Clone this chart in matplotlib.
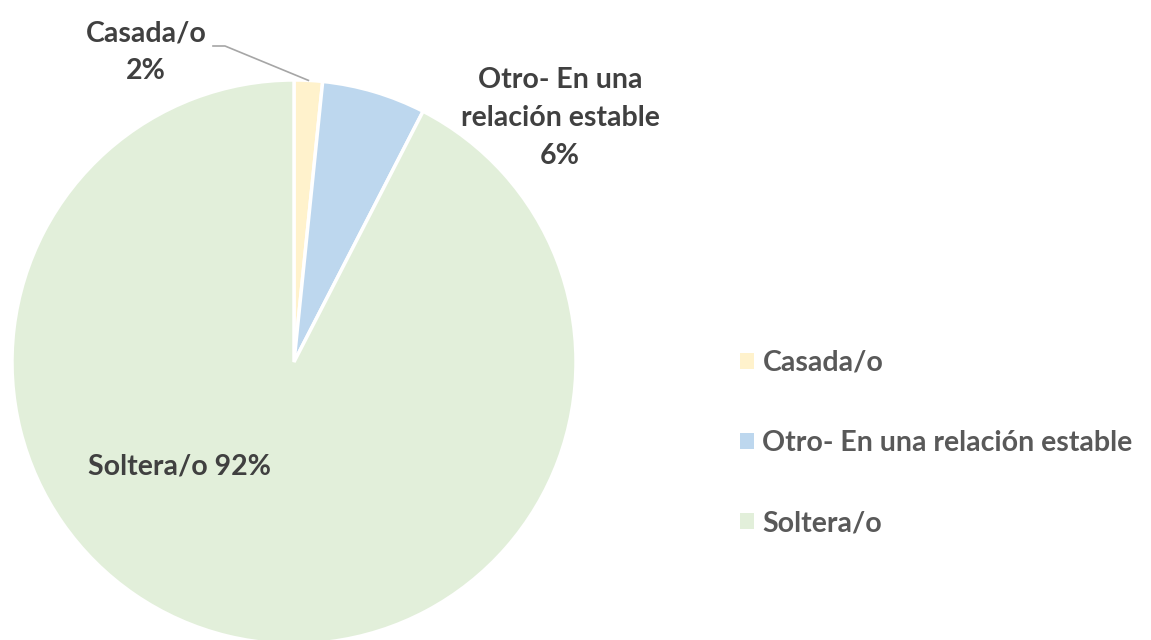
import numpy as np
import matplotlib.pyplot as plt
from matplotlib.patches import Patch

# Datos del grafico
categorias = ['Casada/o', 'Otro- En una relación estable', 'Soltera/o']
conteos = [3, 11, 171]
colores = ['#FFF2CC', '#BDD7EE', '#E2EFDA']

total = sum(conteos)
porcentajes = [round(c / total * 100) for c in conteos]

plt.rcParams['font.family'] = ['Lato', 'DejaVu Sans']

fig = plt.figure(figsize=(11.51, 6.40), dpi=100)
W, H = 1151, 640
cx, cy, r = 294, 362, 282
ax = fig.add_axes([(cx - r) / W, (H - cy - r) / H, 2 * r / W, 2 * r / H])

wedges, _ = ax.pie(conteos, colors=colores, startangle=90, counterclock=False,
                   radius=1, wedgeprops=dict(edgecolor='white', linewidth=2.5))
ax.set_xlim(-1, 1)
ax.set_ylim(-1, 1)
ax.set_aspect('equal')
ax.axis('off')

def px(x, y):
    return ((x - cx) / r, (cy - y) / r)

color_etq = '#404040'
fs = 20.5

# Casada/o con linea guia
tx, ty = px(146, 52)
ax.text(tx, ty, f'{categorias[0]}\n{porcentajes[0]}%', ha='center', va='center',
        fontsize=fs, fontweight='bold', color=color_etq, linespacing=1.55)
w = wedges[0]
ang = np.deg2rad((w.theta1 + w.theta2) / 2)
x0, y0 = px(213, 46)
x1, y1 = px(225, 46)
ax.plot([x0, x1, np.cos(ang)], [y0, y1, np.sin(ang)], color='#A6A6A6', lw=1.2,
        clip_on=False)

tx, ty = px(560, 118)
ax.text(tx, ty, f'Otro- En una\nrelación estable\n{porcentajes[1]}%', ha='center', va='center',
        fontsize=fs, fontweight='bold', color=color_etq, linespacing=1.55)

tx, ty = px(180, 466)
ax.text(tx, ty, f'{categorias[2]} {porcentajes[2]}%', ha='center', va='center',
        fontsize=fs, fontweight='bold', color=color_etq)

handles = [Patch(facecolor=c, edgecolor='none') for c in colores]
fig.legend(handles, categorias, loc='center left', bbox_to_anchor=(714 / W, (H - 443) / H),
           frameon=False, labelspacing=1.9, handlelength=0.5,
           handleheight=0.5, handletextpad=0.3,
           prop=dict(weight='bold', size=fs), labelcolor='#595959')

fig.savefig('out.png', dpi=100)
